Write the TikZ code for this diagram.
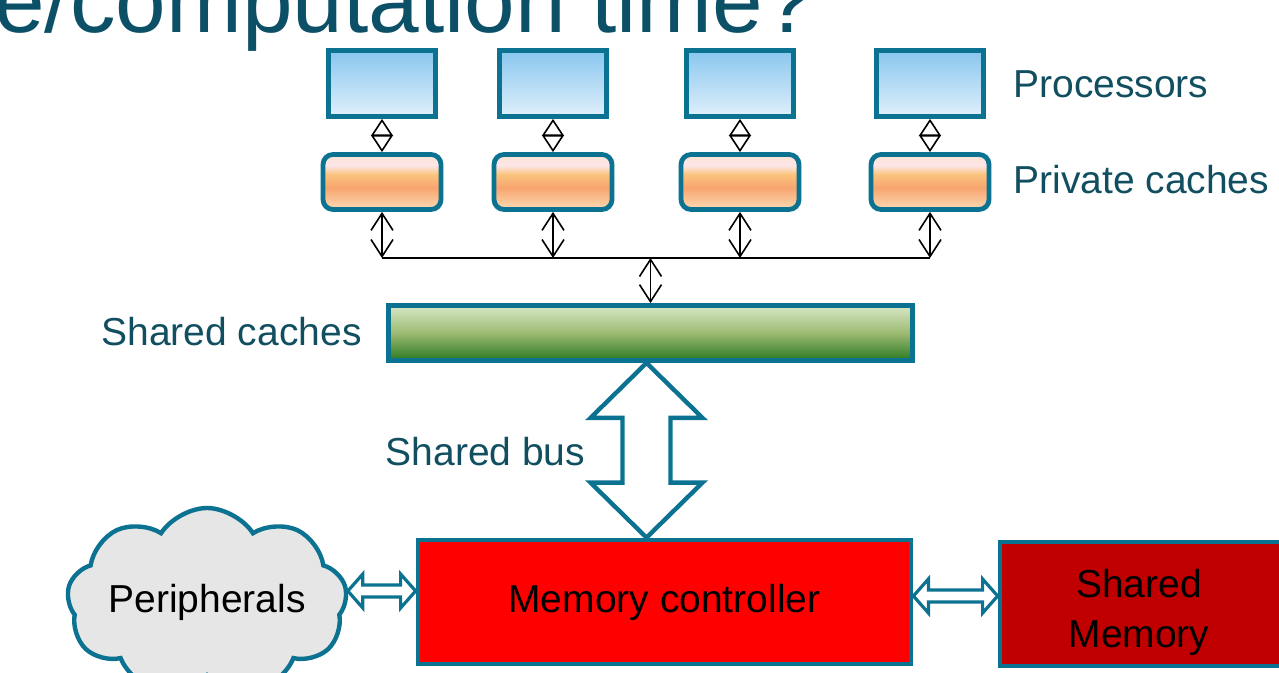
\documentclass[tikz,border=0pt]{standalone}
\usepackage{fontspec}
\setmainfont{Liberation Sans}
\usetikzlibrary{positioning, calc, arrows.meta, shapes.symbols}

\definecolor{edgeteal}{RGB}{12,114,145}
\definecolor{labelteal}{RGB}{16,78,96}
\definecolor{titleteal}{RGB}{12,80,104}
\definecolor{proctop}{RGB}{136,198,238}
\definecolor{procbot}{RGB}{224,240,251}
\definecolor{cachea}{RGB}{251,227,208}
\definecolor{cacheb}{RGB}{253,230,234}
\definecolor{cachec}{RGB}{250,196,124}
\definecolor{cached}{RGB}{248,165,112}
\definecolor{cachee}{RGB}{250,199,154}
\definecolor{cachef}{RGB}{252,221,184}
\definecolor{greentop}{RGB}{214,232,198}
\definecolor{greenmid}{RGB}{157,186,114}
\definecolor{greenbot}{RGB}{42,122,34}
\definecolor{memred}{RGB}{255,0,0}
\definecolor{memdark}{RGB}{192,0,0}
\definecolor{cloudgrey}{RGB}{230,230,230}

\pgfdeclareverticalshading{procshade}{100bp}{color(0bp)=(procbot); color(25bp)=(procbot); color(75bp)=(proctop); color(100bp)=(proctop)}
\pgfdeclareverticalshading{cacheshade}{100bp}{color(0bp)=(cachef); color(25bp)=(cachef); color(32bp)=(cachee); color(45bp)=(cached); color(57bp)=(cachec); color(65bp)=(cacheb); color(75bp)=(cachea); color(100bp)=(cachea)}
\pgfdeclareverticalshading{greenshade}{100bp}{color(0bp)=(greenbot); color(25bp)=(greenbot); color(50bp)=(greenmid); color(75bp)=(greentop); color(100bp)=(greentop)}

% hollow two-headed block arrow: from, to, shaft half width, head half width, head length
\newcommand{\blockarrow}[6][]{%
  \coordinate (ba1) at ($(#2)!#6!(#3)$);
  \coordinate (ba2) at ($(#3)!#6!(#2)$);
  \draw[busarrow, #1] (#2) -- ($(ba1)!#5!90:(#3)$) -- ($(ba1)!#4!90:(#3)$)
    -- ($(ba2)!#4!-90:(#2)$) -- ($(ba2)!#5!-90:(#2)$) -- (#3)
    -- ($(ba2)!#5!90:(#2)$) -- ($(ba2)!#4!90:(#2)$)
    -- ($(ba1)!#4!-90:(#3)$) -- ($(ba1)!#5!-90:(#3)$) -- cycle;
}

\begin{document}
\begin{tikzpicture}[x=0.5pt, y=-0.5pt, node distance=49.25pt, on grid,
    proc/.style={draw=edgeteal, line width=2.4pt, shading=procshade, minimum width=53.5pt, minimum height=33pt, inner sep=0},
    cache/.style={draw=edgeteal, line width=2.4pt, shading=cacheshade, rounded corners=5pt, minimum width=59pt, minimum height=27.5pt, inner sep=0},
    shcache/.style={draw=edgeteal, line width=2.4pt, shading=greenshade, minimum width=262pt, minimum height=27.5pt, inner sep=0},
    membox/.style={draw=edgeteal, line width=2.4pt, minimum height=62pt, inner sep=0},
    memtext/.style={inner sep=0, font=\fontsize{19.5}{25}\selectfont, align=center},
    cloudbox/.style={cloud, cloud puffs=9, cloud puff arc=115, cloud ignores aspect, draw=edgeteal, line width=2.2pt, fill=cloudgrey, minimum width=140pt, minimum height=94pt, inner sep=0, font=\fontsize{19.5}{25}\selectfont},
    lbl/.style={inner sep=0, text=labelteal, font=\fontsize{19.5}{25}\selectfont},
    diamarrow/.style={line width=0.8pt, {Triangle[open, width=11pt, length=8.5pt]}-{Triangle[open, width=11pt, length=8.5pt]}},
    barbarrow/.style={line width=0.8pt, {Straight Barb[width=11pt, length=8.5pt]}-{Straight Barb[width=11pt, length=8.5pt]}},
    busarrow/.style={draw=edgeteal, line width=2.2pt, fill=white, line join=miter}]
    \useasboundingbox (0,0) rectangle (1279,673);
    \clip (0,0) rectangle (1279,673);

    % Title (cut by the slide edge)
    \node[anchor=base west, inner sep=0, text=titleteal, font=\fontsize{45.5}{50}\selectfont] (title) at (-6,33) {e/computation time?};

    % Processors and private caches
    \foreach \i/\xc in {1/382, 2/553, 3/740, 4/930} {
        \node[proc] (p\i) at (\xc,83.5) {};
        \node[cache] (c\i) [below=of p\i] {};
        \draw[diamarrow] (p\i.south) -- (c\i.north);
        \coordinate (b\i) at (c\i.south |- 0,258);
        \draw[barbarrow] (c\i.south) -- (b\i);
    }
    \node[lbl, anchor=west] (proclbl) at (1013,84) {Processors};
    \node[lbl, anchor=west] (cachelbl) at (1013,180) {Private caches};

    % Shared cache
    \node[shcache] (shc) at (650.5,333) {};
    \node[lbl, anchor=east] (shclbl) at (362,332) {Shared caches};
    \draw[line width=0.8pt] (b1) -- (b4);
    \draw[barbarrow] (shc.north |- b1) -- (shc.north);

    % Memory side
    \node[membox, fill=memred, minimum width=246.5pt] (mc) at (664.5,602) {};
    \node[memtext] (mctext) at (mc.center) {Memory controller};
    \node[membox, fill=memdark, minimum width=143pt] (sm) at (1143,604) {};
    \node[memtext] (smtext) at ([xshift=-2pt, yshift=-4pt]sm.center) {Shared\\Memory};
    \node[cloudbox] (periph) at (207,602) {Peripherals};
    \node[lbl] (buslbl) at (485.5,452) {Shared bus};

    % Block arrows
    \coordinate (bustop) at ([xshift=-2pt]shc.south);
    \coordinate (busbot) at (bustop |- mc.north);
    \blockarrow{bustop}{busbot}{12pt}{28pt}{27.5pt}
    \coordinate (pr) at ([yshift=5.5pt]mc.west);
    \coordinate (pl) at (periph.east |- pr);
    \blockarrow[line width=1.6pt]{pl}{pr}{3pt}{8.5pt}{7.5pt}
    \coordinate (ml) at ([yshift=3pt]mc.east);
    \coordinate (mr) at (sm.west |- ml);
    \blockarrow[line width=1.6pt]{ml}{mr}{3pt}{8.5pt}{7.5pt}
\end{tikzpicture}
\end{document}
